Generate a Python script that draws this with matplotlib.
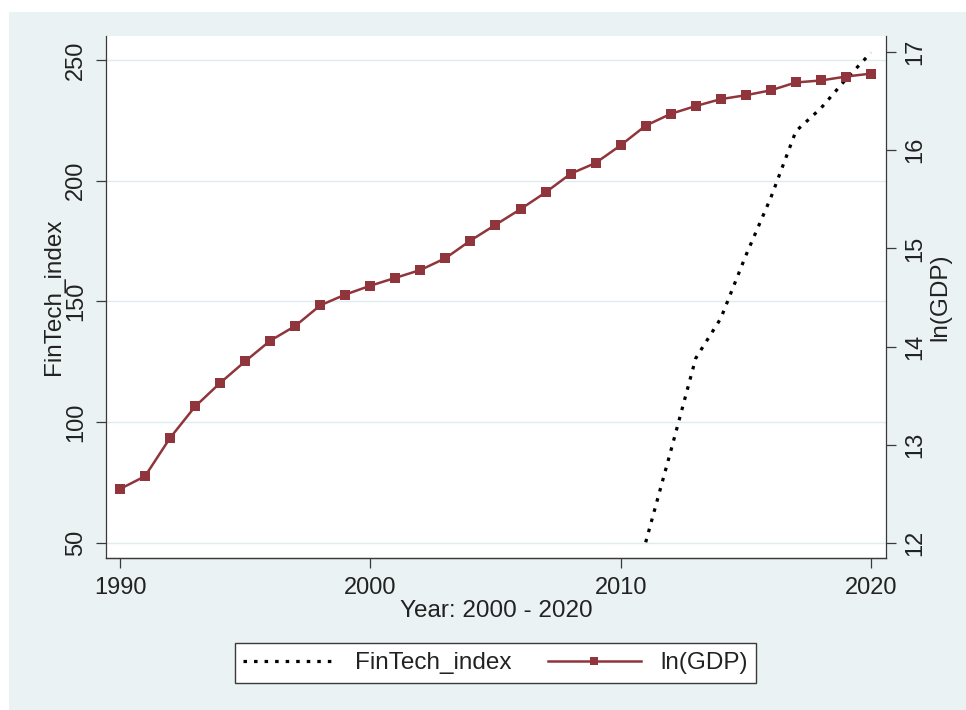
import matplotlib
matplotlib.use("Agg")
import matplotlib.pyplot as plt
from matplotlib.patches import Rectangle

plt.rcParams['font.family'] = ['Liberation Sans', 'DejaVu Sans']

# ---- data ----
years_gdp = list(range(1990, 2021))
ln_gdp = [12.55, 12.68, 13.07, 13.39, 13.63, 13.85, 14.06, 14.21, 14.42, 14.53,
          14.62, 14.70, 14.78, 14.90, 15.08, 15.24, 15.40, 15.57, 15.76, 15.87,
          16.05, 16.25, 16.37, 16.45, 16.52, 16.56, 16.61, 16.69, 16.71, 16.75,
          16.78]
years_ft = list(range(2011, 2021))
fintech = [50.3, 88, 126.5, 143, 169, 193, 220.5, 230, 242, 253]

x_ticks = [1990, 2000, 2010, 2020]
left_ticks = [50, 100, 150, 200, 250]
right_ticks = [12, 13, 14, 15, 16, 17]

# ---- style ----
BG = '#EAF2F3'
TXT = '#222222'
AX = '#3a3a3a'
RED = '#90353B'
FS = 17

fig = plt.figure(figsize=(9.66, 7.10), dpi=100, facecolor='white')
fig.add_artist(Rectangle((9 / 966, 0), 1 - 9 / 966, 1 - 12 / 710,
                         transform=fig.transFigure, facecolor=BG,
                         edgecolor='none', zorder=-10))

ax = fig.add_axes([106 / 966, 1 - 558 / 710, 780 / 966, 522 / 710])
ax.set_facecolor('white')
ax2 = ax.twinx()

# FinTech index on left axis (dotted)
l1, = ax.plot(years_ft, fintech, color='black', lw=2.3,
              linestyle=(0, (1.1, 2.2)), dash_capstyle='butt',
              label='FinTech_index', zorder=3)
# ln(GDP) on right axis
l2, = ax2.plot(years_gdp, ln_gdp, color=RED, lw=1.8, marker='s',
               markersize=6.5, markeredgewidth=0, label='ln(GDP)', zorder=3)

ax.set_xlim(1989.44, 2020.6)
ax.set_ylim(43.79, 259.9)
ax2.set_ylim(11.847, 17.163)

ax.set_xticks(x_ticks)
ax.set_yticks(left_ticks)
ax2.set_yticks(right_ticks)

ax.yaxis.grid(True, color='#E0EBED', lw=1.0)
ax.set_axisbelow(True)

for a in (ax, ax2):
    for side in ('top',):
        a.spines[side].set_visible(False)
    for s in a.spines.values():
        s.set_color(AX)
        s.set_linewidth(0.9)
    a.tick_params(direction='out', length=7.5, width=0.9, color=AX,
                  labelsize=FS, labelcolor=TXT, pad=6)
ax2.spines['left'].set_visible(False)
ax.spines['right'].set_visible(False)

for lab in ax.get_yticklabels():
    lab.set_rotation(90)
    lab.set_va('center')
    lab.set_ha('right')
for lab in ax2.get_yticklabels():
    lab.set_rotation(90)
    lab.set_va('center')
    lab.set_ha('left')

ax.set_xlabel('Year: 2000 - 2020', fontsize=17.5, color=TXT, labelpad=1)
ax.set_ylabel('FinTech_index', fontsize=17.5, color=TXT, labelpad=0)
ax2.set_ylabel('ln(GDP)', fontsize=17.5, color=TXT, labelpad=2, rotation=90)

leg = fig.legend(handles=[l1, l2], loc='center',
                 bbox_to_anchor=(495.5 / 966, 1 - 663 / 710), ncol=2,
                 fontsize=17.5, frameon=True, fancybox=False,
                 edgecolor=AX, framealpha=1, handlelength=3.8,
                 handletextpad=0.8, columnspacing=1.5, borderpad=0.35,
                 markerscale=0.85)
leg.get_frame().set_linewidth(1.0)
for t in leg.get_texts():
    t.set_color(TXT)

fig.savefig('out.png', dpi=100, facecolor=fig.get_facecolor())
